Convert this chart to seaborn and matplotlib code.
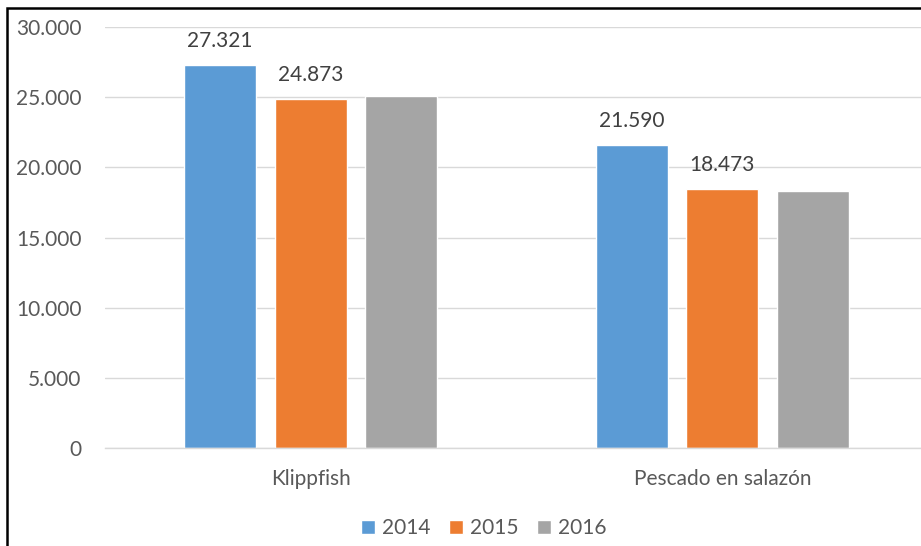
import pandas as pd
import matplotlib.pyplot as plt
import seaborn as sns
from matplotlib.patches import Rectangle

# ----------------------------------------------------
# Data
# ----------------------------------------------------

categories = ["Klippfish", "Pescado en salazón"]
years = ["2014", "2015", "2016"]
values_2014 = [27321, 21590]
values_2015 = [24873, 18473]
values_2016 = [25100, 18300]
labelled_years = ["2014", "2015"]

colors = ["#5B9BD5", "#ED7D31", "#A5A5A5"]

df = pd.DataFrame({
    "producto": categories * 3,
    "anio": [y for y in years for _ in categories],
    "valor": values_2014 + values_2015 + values_2016,
})

# ----------------------------------------------------
# Plot
# ----------------------------------------------------

sns.set_style("white")
plt.rcParams["font.family"] = ["Lato", "DejaVu Sans"]

fig = plt.figure(figsize=(9.21, 5.46), dpi=100)
ax = fig.add_axes([105 / 921, 1 - 448 / 546, 823 / 921, 421 / 546])

sns.barplot(
    data=df,
    x="producto",
    y="valor",
    hue="anio",
    palette=colors,
    saturation=1,
    width=0.66,
    gap=0.2,
    ax=ax,
)

ax.set_ylim(0, 30000)
ax.set_yticks(range(0, 30001, 5000))
ax.set_yticklabels([f"{t:,}".replace(",", ".") for t in range(0, 30001, 5000)])
ax.set_xlabel("")
ax.set_ylabel("")

ax.yaxis.grid(True, color="#d9d9d9", linewidth=1)
ax.set_axisbelow(True)
for side in ["left", "right", "top"]:
    ax.spines[side].set_visible(False)
ax.spines["bottom"].set_color("#d9d9d9")
ax.spines["bottom"].set_linewidth(1)

ax.tick_params(axis="both", length=0, labelsize=15, labelcolor="#595959")
ax.tick_params(axis="y", pad=17)
ax.tick_params(axis="x", pad=15)

for container, year in zip(ax.containers, years):
    if year in labelled_years:
        ax.bar_label(
            container,
            labels=[f"{v:,.0f}".replace(",", ".") for v in container.datavalues],
            padding=10,
            fontsize=15,
            color="#404040",
        )

sns.move_legend(
    ax,
    "center",
    bbox_to_anchor=(484 / 921, 1 - 528 / 546),
    bbox_transform=fig.transFigure,
    ncol=3,
    frameon=False,
    title=None,
    fontsize=15,
    handlelength=0.65,
    handleheight=0.65,
    handletextpad=0.35,
    columnspacing=0.9,
)
for t in ax.get_legend().get_texts():
    t.set_color("#595959")

# chart border (cropped on the right and bottom)
fig.patches.append(Rectangle(
    (7 / 921, -0.1), 1.2, 1.1 - 8 / 546,
    transform=fig.transFigure, fill=False,
    edgecolor="black", linewidth=1.8, zorder=10,
))

fig.savefig("out.png", dpi=100)
